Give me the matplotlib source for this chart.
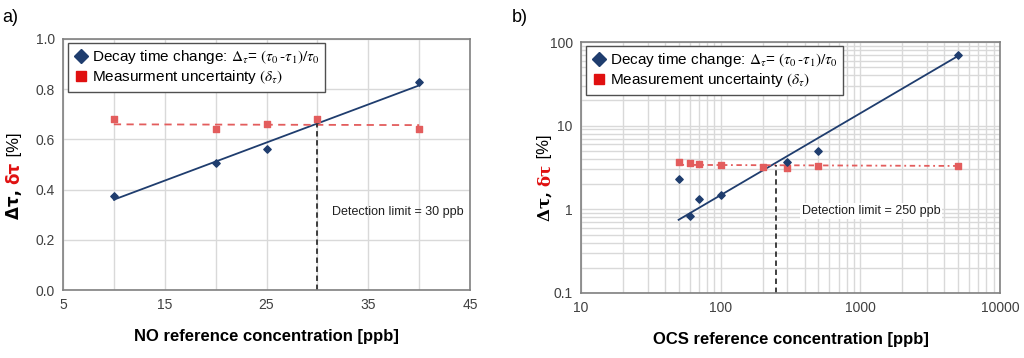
import numpy as np
import matplotlib
matplotlib.use("Agg")
import matplotlib.pyplot as plt
from matplotlib.lines import Line2D
from matplotlib.ticker import FixedLocator, FuncFormatter, LogLocator, NullFormatter

plt.rcParams['font.family'] = ['Liberation Sans', 'DejaVu Sans']
plt.rcParams['mathtext.fontset'] = 'stix'

# panel a) NO
no_x_dec = [10, 20, 25, 40]
no_y_dec = [0.375, 0.505, 0.56, 0.83]
no_x_unc = [10, 20, 25, 30, 40]
no_y_unc = [0.68, 0.64, 0.66, 0.68, 0.64]
no_fit_x = [10, 40]
no_fit_y = [0.36, 0.815]
no_unc_line = [0.66, 0.657]
no_limit = 30
no_limit_y = 0.665

# panel b) OCS
ocs_x_dec = [50, 60, 70, 100, 300, 500, 5000]
ocs_y_dec = [2.33, 0.83, 1.33, 1.5, 3.65, 4.98, 69]
ocs_x_unc = [50, 60, 70, 100, 200, 300, 500, 5000]
ocs_y_unc = [3.68, 3.55, 3.45, 3.36, 3.24, 3.15, 3.26, 3.29]
ocs_fit_x = [50, 5000]
ocs_fit_y = [0.75, 68]
ocs_unc_line = [3.4, 3.3]
ocs_limit = 250
ocs_limit_y = 3.4

blue = '#1f3d6e'
red_pt = '#e35d5d'
red_leg = '#e01010'
grid_c = '#d9d9d9'
tick_c = '#404040'

W, H = 1024, 358
fig = plt.figure(figsize=(W / 100, H / 100), dpi=100)


def px_axes(x0, y0, x1, y1):
    return fig.add_axes([x0 / W, 1 - y1 / H, (x1 - x0) / W, (y1 - y0) / H])


ax1 = px_axes(63, 39, 470, 290)
ax2 = px_axes(581, 42, 1000, 293)

leg_handles = [
    Line2D([], [], marker='D', color=blue, ls='none', markersize=7.5),
    Line2D([], [], marker='s', color=red_leg, ls='none', markersize=7),
]
lab_dec = r"Decay time change: $\mathit{\Delta_\tau}$= $(\tau_0\,$-$\tau_1)/\tau_0$"


def style(ax):
    for s in ax.spines.values():
        s.set_color('#808080')
        s.set_linewidth(1.2)
    ax.tick_params(length=0, labelsize=10, labelcolor=tick_c, pad=6)
    ax.set_axisbelow(True)


def ylabel(xpix, ycen, serif):
    fam = ['DejaVu Serif'] if serif else ['DejaVu Sans']
    parts = [(r'Δτ, ', 'black', 'bold', fam), (r'δτ', '#e01010', 'bold', fam),
             (' [%]', 'black', 'normal', ['Liberation Sans'])]
    r = fig.canvas.get_renderer()
    texts = []
    for s, c, w, f in parts:
        t = fig.text(xpix / W, 0, s, rotation=90, color=c, fontweight=w,
                     family=f, fontsize=12, ha='center', va='bottom')
        texts.append(t)
    hs = [t.get_window_extent(r).height for t in texts]
    y = (H - ycen) - sum(hs) / 2
    for t, h in zip(texts, hs):
        t.set_y(y / H)
        y += h


def legend(ax, labels):
    ax.legend(leg_handles, labels, loc='upper left', bbox_to_anchor=(0.012, 0.985),
              borderaxespad=0, fontsize=11, fancybox=False, edgecolor='#505050',
              framealpha=1, handletextpad=0.2, handlelength=1.0, borderpad=0.35,
              labelspacing=0.15)


# ---- panel a
style(ax1)
ax1.plot(no_fit_x, no_fit_y, color=blue, lw=1.3)
ax1.plot([no_x_unc[0], no_x_unc[-1]], no_unc_line, color=red_pt, lw=1.3, ls=(0, (4, 3)))
ax1.plot([no_limit, no_limit], [0, no_limit_y], color='#303030', lw=1.3, ls=(0, (3, 2)))
ax1.scatter(no_x_unc, no_y_unc, marker='s', color=red_pt, s=22, zorder=3)
ax1.scatter(no_x_dec, no_y_dec, marker='D', color=blue, s=14, zorder=4)
ax1.set_xlim(5, 45)
ax1.set_ylim(0, 1.0)
ax1.set_xticks([5, 15, 25, 35, 45])
ax1.xaxis.set_minor_locator(FixedLocator([10, 20, 30, 40]))
ax1.set_yticks(np.arange(0, 1.01, 0.2))
ax1.yaxis.set_major_formatter(FuncFormatter(lambda v, p: f'{v:.1f}'))
ax1.grid(True, which='both', color=grid_c, lw=1)
ax1.tick_params(which='minor', length=0)
ax1.text(31.4, 0.3, 'Detection limit = 30 ppb', fontsize=9, color='#202020')
legend(ax1, [lab_dec, r'Measurment uncertainty $(\mathit{\delta_\tau})$'])
ax1.set_xlabel('NO reference concentration [ppb]', fontsize=12, fontweight='bold', labelpad=12)

# ---- panel b
style(ax2)
ax2.set_xscale('log')
ax2.set_yscale('log')
ax2.plot(ocs_fit_x, ocs_fit_y, color=blue, lw=1.3)
ax2.plot([ocs_x_unc[0], ocs_x_unc[-1]], ocs_unc_line, color=red_pt, lw=1.3, ls=(0, (3, 2, 1, 2)))
ax2.plot([ocs_limit, ocs_limit], [0.1, ocs_limit_y], color='#303030', lw=1.3, ls=(0, (3, 2)))
ax2.scatter(ocs_x_unc, ocs_y_unc, marker='s', color=red_pt, s=22, zorder=3)
ax2.scatter(ocs_x_dec, ocs_y_dec, marker='D', color=blue, s=14, zorder=4)
ax2.set_xlim(10, 10000)
ax2.set_ylim(0.1, 100)
ax2.set_xticks([10, 100, 1000, 10000])
ax2.set_yticks([0.1, 1, 10, 100])
ax2.xaxis.set_major_formatter(FuncFormatter(lambda v, p: f'{v:g}'))
ax2.yaxis.set_major_formatter(FuncFormatter(lambda v, p: f'{v:g}'))
for a in (ax2.xaxis, ax2.yaxis):
    a.set_minor_locator(LogLocator(base=10, subs=np.arange(2, 10)))
    a.set_minor_formatter(NullFormatter())
ax2.grid(True, which='both', color=grid_c, lw=1)
ax2.tick_params(which='minor', length=0)
ax2.text(380, 0.95, 'Detection limit = 250 ppb', fontsize=9, color='#202020',
         va='center', bbox=dict(facecolor='white', edgecolor='none', pad=1.5))
legend(ax2, [lab_dec, r'Measurement uncertainty $(\mathit{\delta_\tau})$'])
ax2.set_xlabel('OCS reference concentration [ppb]', fontsize=12, fontweight='bold', labelpad=12)

ylabel(14, 176, serif=False)
ylabel(545, 178, serif=True)

fig.text(2 / W, 1 - 18 / H, 'a)', fontsize=13, va='center')
fig.text(512 / W, 1 - 18 / H, 'b)', fontsize=13, va='center')

fig.savefig('out.png', dpi=100)
